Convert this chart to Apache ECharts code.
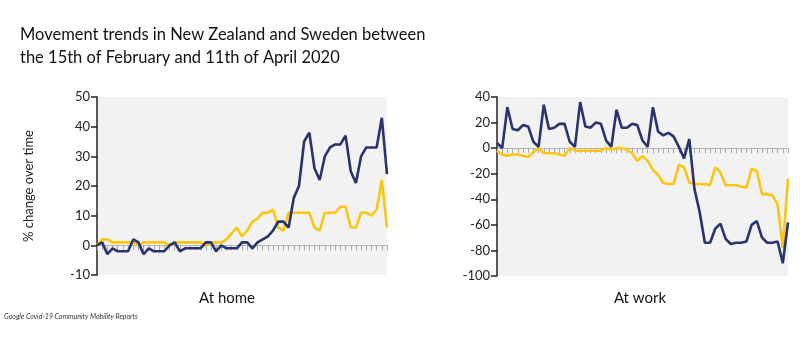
<!DOCTYPE html>
<html>
<head>
<meta charset="utf-8">
<script src="https://cdn.jsdelivr.net/npm/echarts@6/dist/echarts.min.js"></script>
<style>
html,body{margin:0;padding:0;background:#fff;}
#chart{width:800px;height:343px;}
</style>
</head>
<body>
<div id="chart"></div>
<script>
// 15 Feb – 11 Apr 2020 (57 days)
const days = [];
(function(){
  const months = ['Feb','Mar','Apr'];
  const lens = [29,31,30];
  let m = 0, d = 15;
  for (let i = 0; i < 57; i++) {
    days.push(d + ' ' + months[m]);
    d++;
    if (d > lens[m]) { d = 1; m++; }
  }
})();

const homeNZ = [0,1,-3,-1,-2,-2,-2,2,1,-3,-1,-2,-2,-2,0,1,-2,-1,-1,-1,-1,1,1,-2,0,-1,-1,-1,1,1,-1,1,2,3,5,8,8,6,16,20,35,38,26,22,30,33,34,34,37,25,21,30,33,33,33,43,24];
const homeSE = [0,2,2,1,1,1,1,1,0,1,1,1,1,1,0,1,1,1,1,1,1,0,1,1,1,2,4,6,3,5,8,9,11,11,12,6,5,11,11,11,11,11,6,5,11,11,11,13,13,6,6,11,11,10,12,22,6];
const workNZ = [4,0,32,15,14,18,17,5,1,34,15,16,19,19,5,1,36,17,16,20,19,6,1,30,16,16,19,18,6,1,32,13,10,12,9,1,-8,7,-32,-50,-74,-74,-63,-59,-71,-75,-74,-74,-73,-60,-57,-70,-74,-74,-73,-90,-58];
const workSE = [-2,-5,-6,-5,-5,-6,-7,-3,0,-4,-4,-4,-5,-6,0,-2,-2,-2,-2,-2,-2,0,-1,0,0,-1,-4,-10,-6,-10,-17,-21,-27,-28,-28,-13,-15,-27,-28,-28,-28,-29,-15,-19,-29,-29,-29,-30,-31,-16,-18,-36,-36,-37,-44,-78,-24];

const NAVY = '#29336e';
const YELLOW = '#fcc512';
const FONT = 'Lato, "Open Sans", sans-serif';

function xAx(gi){
  return {
    type:'category', gridIndex:gi, data:days, boundaryGap:false,
    axisLine:{onZero:true, lineStyle:{color:'#b5b5b5', width:1}},
    axisTick:{show:true, interval:0, length:5, lineStyle:{color:'#aaaaaa'}},
    axisLabel:{show:false}, splitLine:{show:false}
  };
}
function yAx(gi, min, max, step, name){
  return {
    type:'value', gridIndex:gi, min:min, max:max, interval:step,
    name:name||'', nameLocation:'middle', nameGap:62, nameRotate:90,
    nameTextStyle:{fontFamily:FONT, fontSize:13, color:'#222'},
    axisLine:{show:true, onZero:false, lineStyle:{color:'#222', width:1.5}},
    axisTick:{show:true, length:6, lineStyle:{color:'#222', width:1.5}},
    axisLabel:{fontFamily:FONT, fontSize:13, color:'#222', margin:7},
    splitLine:{show:false}
  };
}
function ser(name, xi, data, color){
  return {
    name:name, type:'line', xAxisIndex:xi, yAxisIndex:xi, data:data,
    symbol:'none', lineStyle:{color:color, width:2.6}, itemStyle:{color:color},
    z: color===NAVY?3:2, animation:false
  };
}

const chart = echarts.init(document.getElementById('chart'));
chart.setOption({
  animation:false,
  backgroundColor:'#ffffff',
  title:[
    {text:'Movement trends in New Zealand and Sweden between\nthe 15th of February and 11th of April 2020',
     left:20, top:23, padding:0, textStyle:{fontFamily:FONT, fontWeight:'normal', fontSize:16.5, lineHeight:23, color:'#111'}},
    {text:'At home', left:227, top:291, padding:0, textAlign:'center', textStyle:{fontFamily:FONT, fontWeight:'normal', fontSize:15, color:'#111'}},
    {text:'At work', left:640, top:291, padding:0, textAlign:'center', textStyle:{fontFamily:FONT, fontWeight:'normal', fontSize:15, color:'#111'}},
    {text:'Google Covid-19 Community Mobility Reports', left:4, top:313, padding:0, textStyle:{fontFamily:FONT, fontStyle:'italic', fontWeight:'normal', fontSize:7, color:'#333'}}
  ],
  grid:[
    {left:97, top:97, width:290, height:178, show:true, backgroundColor:'#f2f2f2', borderWidth:0},
    {left:497, top:97, width:291, height:179, show:true, backgroundColor:'#f2f2f2', borderWidth:0}
  ],
  xAxis:[xAx(0), xAx(1)],
  yAxis:[yAx(0,-10,50,10,'% change over time'), yAx(1,-100,40,20)],
  series:[
    ser('Sweden',0,homeSE,YELLOW),
    ser('New Zealand',0,homeNZ,NAVY),
    ser('Sweden',1,workSE,YELLOW),
    ser('New Zealand',1,workNZ,NAVY)
  ]
});
</script>
</body>
</html>
